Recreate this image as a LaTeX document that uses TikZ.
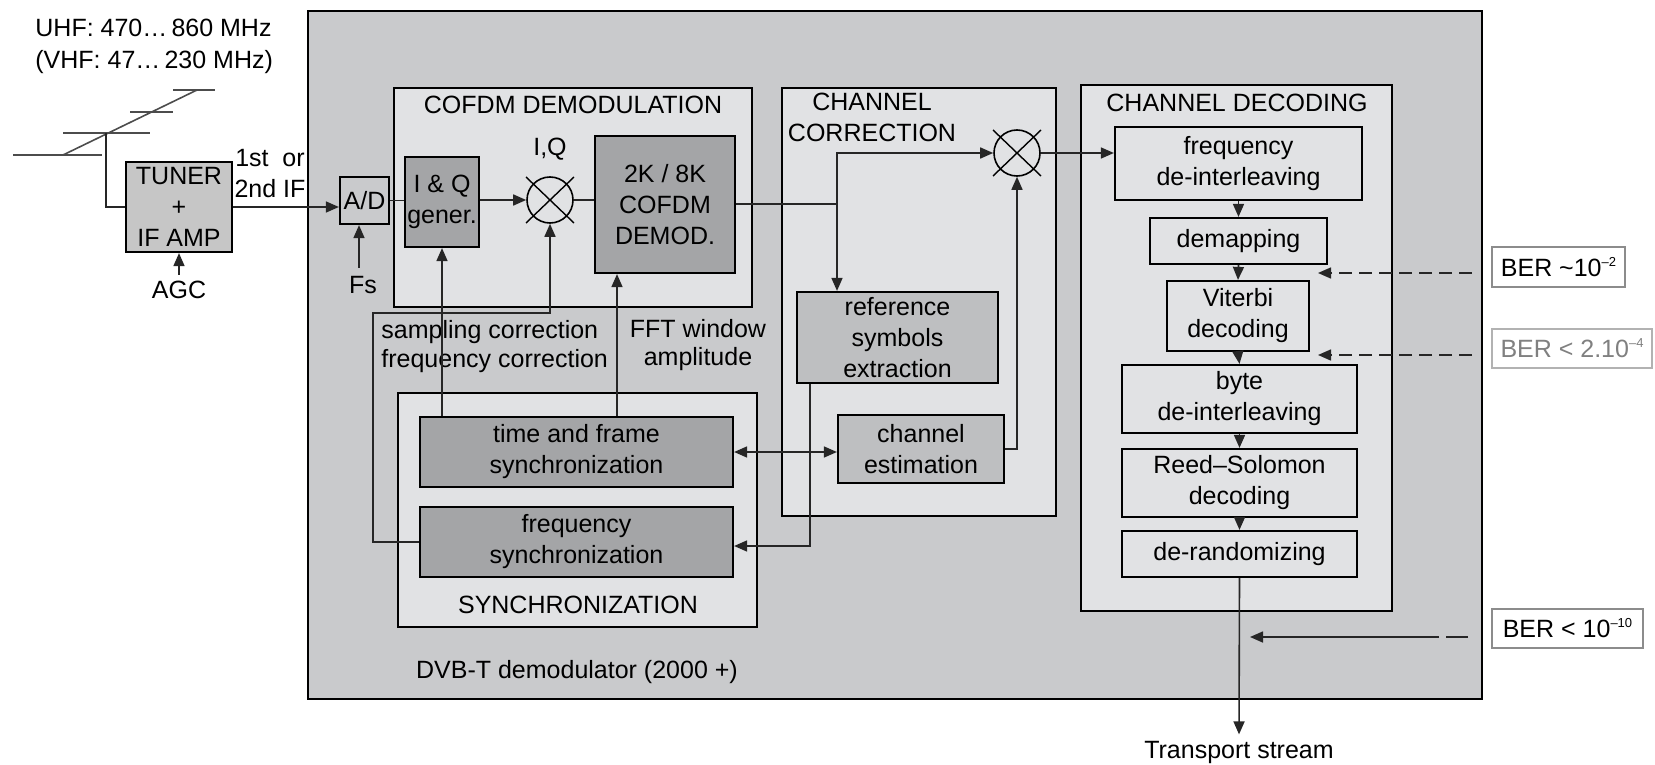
\documentclass[tikz,border=0pt]{standalone}
\usepackage{fontspec}
\setmainfont{Liberation Sans}
\usetikzlibrary{arrows.meta,calc}
\definecolor{cMain}{RGB}{201,202,204}
\definecolor{cLight}{RGB}{225,226,228}
\definecolor{cDark}{RGB}{164,165,167}
\definecolor{cMed}{RGB}{190,191,193}
\definecolor{cTuner}{RGB}{198,198,198}
\newcommand{\supx}[1]{\raisebox{0.75ex}{\fontsize{6.5}{7}\selectfont #1}}
% box from (x1,y1) to (x2,y2) in pixel units
\newcommand{\bxnode}[7]{%
  \node[#2, minimum width={(#5-#3)*0.5pt}, minimum height={(#6-#4)*0.5pt}]
    (#1) at ({(#3+#5)/2},{(#4+#6)/2}) {#7};}
\begin{document}
\begin{tikzpicture}[x=0.5pt,y=-0.5pt,
  every node/.style={font=\fontsize{12.5}{15.5}\selectfont},
  blk/.style={draw, line width=1.1pt, inner sep=0pt, align=center},
  cont/.style={draw, line width=1.1pt, inner sep=0pt, fill=cLight},
  lbl/.style={inner sep=0pt, align=center},
  con/.style={draw=black!85, line width=0.8pt},
  arr/.style={con, -{Triangle[length=6.5pt,width=5.5pt]}},
  darr/.style={con, {Triangle[length=6.5pt,width=5.5pt]}-{Triangle[length=6.5pt,width=5.5pt]}},
  dsh/.style={arr, dash pattern=on 6.5pt off 3.5pt},
  ant/.style={draw=black!70, line width=0.8pt},
  mixer/.style={circle, draw, line width=0.8pt, fill=cLight, minimum size=23pt, inner sep=0pt},
  xline/.style={draw, line width=0.7pt},
  ber/.style={draw=black!45, line width=0.8pt, inner sep=0pt, fill=white, align=center}
]
\useasboundingbox (0,0) rectangle (1655,765);

% ---------- main box and containers ----------
\bxnode{main}{cont, fill=cMain}{308}{11}{1482}{699}{}
\bxnode{cofdmc}{cont}{394}{88}{752}{307}{}
\bxnode{syncc}{cont}{398}{393}{757}{627}{}
\bxnode{chcc}{cont}{782}{88}{1056}{516}{}
\bxnode{chdc}{cont}{1081}{85}{1392}{611}{}

% ---------- titles ----------
\node[lbl] (t1) at (573,105) {COFDM DEMODULATION};
\node[lbl] (t2) at (872,117) {CHANNEL\\CORRECTION};
\node[lbl] (t3) at (1237,103) {CHANNEL DECODING};
\node[lbl] (t4) at (578,605) {SYNCHRONIZATION};
\node[lbl] (t5) at (577,672) {DVB-T demodulator (2000 +)};

% ---------- antenna and tuner ----------
\node[lbl, anchor=west] (uhf) at (35,28) {UHF: 470…\,860 MHz};
\node[lbl, anchor=west] (vhf) at (35,62) {(VHF: 47…\,230 MHz)};
\draw[ant] (13,155) -- (102,155);
\draw[ant] (63,155) -- (197,90);
\draw[ant] (63,133) -- (150,133);
\draw[ant] (130,112) -- (173,112);
\draw[ant] (173,90) -- (215,90);
\coordinate (feed) at (106,133);

\bxnode{tuner}{blk, fill=cTuner}{126}{162}{232}{252}{TUNER\\+\\IF AMP}
\draw[con] (feed) |- (tuner.west);
\node[lbl] (agc) at (179,290) {AGC};
\draw[arr] ([yshift=3pt]agc.north) -- (tuner.south -| agc);
\node[lbl] (ifl) at (270,174) {1st\ \ or\\2nd IF};

\bxnode{ad}{blk, fill=cMain}{340}{177}{389}{224}{A/D}
\draw[arr] (tuner.east) -- (tuner.east -| ad.west);
\node[lbl] (fsl) at (363,285) {Fs};
\coordinate (fsx) at (359,285);
\draw[arr] ([yshift=4pt]fsl.north -| fsx) -- (ad.south -| fsx);

% ---------- COFDM demodulation ----------
\bxnode{iq}{blk, fill=cDark}{405}{157}{479}{247}{I \& Q\\gener.}
\node[mixer] (mix1) at (550,200) {};
\draw[xline] ($(mix1)+(-24,-23)$) -- ($(mix1)+(24,23)$);
\draw[xline] ($(mix1)+(-24,23)$) -- ($(mix1)+(24,-23)$);
\node[lbl] (iql) at (550,149) {I,Q};
\bxnode{cofdm}{blk, fill=cDark}{595}{136}{735}{273}{2K / 8K\\COFDM\\DEMOD.}

\draw[con] (ad.east) -- (ad.east -| iq.west);
\draw[arr] (iq.east |- mix1) -- (mix1.west);
\draw[con] (mix1.east) -- (mix1.east -| cofdm.west);

% ---------- synchronization ----------
\bxnode{tf}{blk, fill=cDark}{420}{417}{733}{487}{time and frame\\synchronization}
\bxnode{fs}{blk, fill=cDark}{420}{507}{733}{577}{frequency\\synchronization}

\node[lbl, align=left, anchor=west, font=\fontsize{12.5}{14.5}\selectfont] (scl) at (381,347) {sampling correction\\frequency correction};
\node[lbl, font=\fontsize{12.5}{14}\selectfont] (fftl) at (698,345) {FFT window\\amplitude};

\draw[arr] (tf.north -| iq.south) -- (iq.south);
\coordinate (fftx) at (617,300);
\draw[arr] (tf.north -| fftx) -- (cofdm.south -| fftx);
\coordinate (l1) at (373,313);
\draw[arr] (fs.west) -| (l1) -| (mix1.south);

% ---------- channel correction ----------
\node[mixer] (mix2) at (1017,153) {};
\draw[xline] ($(mix2)+(-24,-23)$) -- ($(mix2)+(24,23)$);
\draw[xline] ($(mix2)+(-24,23)$) -- ($(mix2)+(24,-23)$);
\bxnode{ref}{blk, fill=cMed}{797}{292}{998}{383}{reference\\symbols\\extraction}
\bxnode{chest}{blk, fill=cMed}{838}{415}{1004}{483}{channel\\estimation}

\coordinate (j1) at (837,204);
\draw[con] (cofdm.east |- j1) -- (j1);
\draw[arr] (j1) |- (mix2.west);
\draw[arr] (j1) -- (j1 |- ref.north);
\draw[arr] (chest.east) -| (mix2.south);
\draw[darr] (tf.east) -- (tf.east -| chest.west);
\coordinate (j2) at (810,546);
\draw[arr] (ref.south -| j2) -- (j2) -- (j2 -| fs.east);

% ---------- channel decoding ----------
\bxnode{fdi}{blk, fill=cLight}{1115}{127}{1362}{200}{frequency\\de-interleaving}
\bxnode{demap}{blk, fill=cLight}{1150}{218}{1327}{264}{demapping}
\bxnode{vit}{blk, fill=cLight}{1167}{281}{1309}{351}{Viterbi\\decoding}
\bxnode{bdi}{blk, fill=cLight}{1122}{365}{1357}{433}{byte\\de-interleaving}
\bxnode{rs}{blk, fill=cLight}{1122}{449}{1357}{517}{Reed–Solomon\\decoding}
\bxnode{derand}{blk, fill=cLight}{1122}{531}{1357}{577}{de-randomizing}

\draw[arr] (mix2.east) -- (mix2.east -| fdi.west);
\draw[arr] (fdi.south) -- (demap.north);
\draw[arr] (demap.south) -- (vit.north);
\draw[arr] (vit.south) -- (bdi.north);
\draw[arr] (bdi.south) -- (rs.north);
\draw[arr] (rs.south) -- (derand.north);

\node[lbl] (ts) at (1239,752) {Transport stream};
\draw[arr] (derand.south) -- ([yshift=3pt]ts.north);

% ---------- BER markers ----------
\bxnode{ber1}{ber}{1492}{247}{1625}{287}{BER \textasciitilde10\supx{–2}}
\bxnode{ber2}{ber, draw=black!30, text=black!50}{1492}{329}{1652}{368}{BER < 2.10\supx{–4}}
\bxnode{ber3}{ber}{1492}{609}{1643}{648}{BER < 10\supx{–10}}

\coordinate (d1s) at (1472,273);
\coordinate (d1e) at (1318,273);
\coordinate (d2s) at (1472,355);
\coordinate (d2e) at (1318,355);
\coordinate (d3s) at (1468,637);
\coordinate (d3e) at (1250,637);
\draw[dsh] (d1s) -- (d1e);
\draw[dsh] (d2s) -- (d2e);
\draw[arr, dash pattern=on 11pt off 3.5pt on 300pt] (d3s) -- (d3e);
\end{tikzpicture}
\end{document}
